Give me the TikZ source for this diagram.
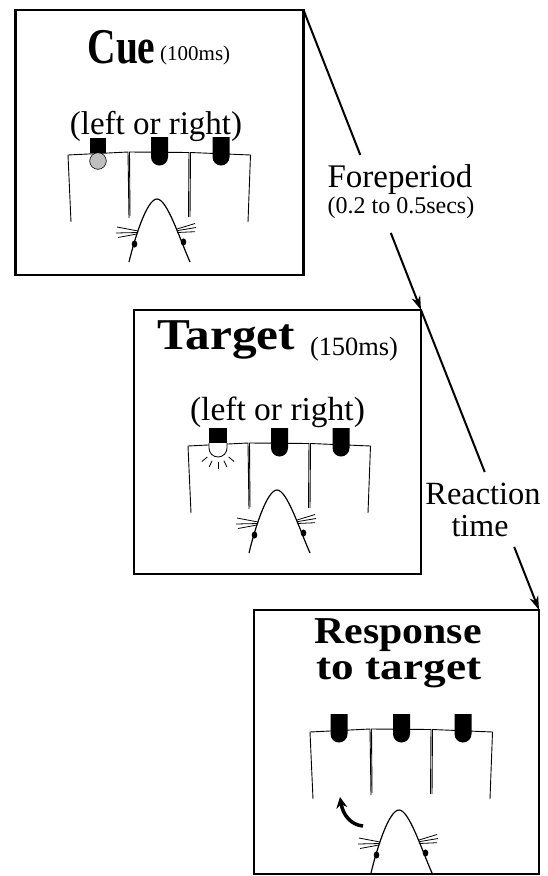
\documentclass[tikz,border=0pt]{standalone}
\usepackage{fontspec}
\setmainfont{Liberation Serif}
\usetikzlibrary{arrows.meta,calc}

\tikzset{
  panel/.style={draw, rectangle, line width=2.8pt, inner sep=0pt, outer sep=0pt},
  wall/.style={line width=0.9pt},
  link/.style={line width=2pt},
  linkarrow/.style={line width=2pt, -{Stealth[length=14pt,width=9pt]}},
  txt/.style={inner sep=0pt, anchor=base},
  % dark lamp: square base with a rounded bulb below
  lamp/.pic={
    \fill (-8.5,-15) -- (8.5,-15) -- (8.5,5) arc[start angle=0,end angle=180,radius=8.5] -- cycle;
  },
  % three open chambers with the middle and right lamps
  chambers/.pic={
    \draw[wall] (-88,70) -- (-91,3) -- (-31,0) -- (-30,66);
    \draw[wall] (-29,64) -- (-29.5,0) -- (30,0.5) -- (29.5,65);
    \draw[wall] (31,65) -- (31.5,0.5) -- (91.5,3) -- (89,70);
    \pic at (0.5,0) {lamp};
    \pic at (62,0) {lamp};
  },
  % rat head seen from above
  rat/.pic={
    \draw[line width=1.2pt] (-30,110) .. controls (-24,85) and (-12,47) .. (-2,47)
          .. controls (8,47) and (20,85) .. (31,110);
    \draw[line width=0.8pt] (-42,75) -- (-21,79) (-43,81) -- (-21,80.5) (-41,85.5) -- (-22,82);
    \draw[line width=0.8pt] (18,77) -- (36,71.5) (18,78.7) -- (37,75.5) (18.5,80.5) -- (36,79.7);
    \fill (-24.5,92) ellipse[x radius=2.8, y radius=3.6];
    \fill (24.5,90) ellipse[x radius=2.8, y radius=3.6];
  }
}

\begin{document}
\begin{tikzpicture}[x=1pt,y=-1pt]
\useasboundingbox (0,0) rectangle (548,876);

% frames
\node[panel, minimum width=288pt, minimum height=265pt] (p1) at (159.5,142.5) {};
\node[panel, minimum width=287pt, minimum height=264pt] (p2) at (277.5,442) {};
\node[panel, minimum width=285pt, minimum height=264pt] (p3) at (396.5,742) {};

% cue frame
\node[txt, font=\fontsize{50}{50}\selectfont\bfseries] (cue) at (121.5,63) {\scalebox{0.79}[1]{Cue}};
\node[txt, anchor=base west, font=\fontsize{21}{21}\selectfont] (cuedur) at (160,60) {(100ms)};
\node[txt, font=\fontsize{33}{33}\selectfont] (side1) at (156,134) {(left or right)};
\begin{scope}[shift={(159,152)}]
  \pic {chambers};
  \draw[fill=gray!50, line width=0.6pt] (-61,9) circle[radius=8.3];
  \fill (-69,-14) rectangle (-53,1);
  \pic {rat};
\end{scope}

% target frame
\node[txt, font=\fontsize{44}{44}\selectfont\bfseries] (target) at (226,349) {\scalebox{1.12}[1]{Target}};
\node[txt, font=\fontsize{26.4}{26.4}\selectfont] (targetdur) at (354,355) {(150ms)};
\node[txt, font=\fontsize{33.5}{33.5}\selectfont] (side2) at (277.5,420) {(left or right)};
\begin{scope}[shift={(279,443)}]
  \pic {chambers};
  \fill (-70,-15) rectangle (-52,0.5);
  \draw[line width=0.8pt, fill=white] (-70,0) -- (-70,5) arc[start angle=180,end angle=0,radius=9] -- (-52,0);
  \foreach \a in {40,65,90,115,140}
    \draw[line width=0.8pt] ([shift={(\a:14)}]-61,5) -- ([shift={(\a:21)}]-61,5);
  \pic {rat};
\end{scope}

% response frame
\node[txt, font=\fontsize{38}{38}\selectfont\bfseries] (resp) at (398,643) {\scalebox{1.1}[1]{Response}};
\node[txt, font=\fontsize{38}{38}\selectfont\bfseries] (resp2) at (399,679) {\scalebox{1.19}[1]{to target}};
\begin{scope}[shift={(401,729)}]
  \pic {chambers};
  \pic at (-62,0) {lamp};
  \draw[line width=3.5pt, -{Stealth[length=11pt,width=11pt]}]
    (-38,97) .. controls (-50,96) and (-58,86) .. (-61,68);
\end{scope}
\pic at (401,763) {rat};

% timing links
\node[txt, font=\fontsize{33}{33}\selectfont] (fore) at (400,187) {Foreperiod};
\node[txt, font=\fontsize{24}{24}\selectfont] (forerange) at (401,213) {(0.2 to 0.5secs)};
\node[txt, font=\fontsize{32.4}{32.4}\selectfont] (react) at (483,504) {Reaction};
\node[txt, font=\fontsize{32}{32}\selectfont] (rtime) at (480,536) {time};

\coordinate (fpA) at ($(p1.north east)!0.483!(p2.north east)$);
\coordinate (fpB) at ($(p1.north east)!0.743!(p2.north east)$);
\coordinate (rtA) at ($(p2.north east)!0.54!(p3.north east)$);
\coordinate (rtB) at ($(p2.north east)!0.79!(p3.north east)$);
\draw[link] (p1.north east) -- (fpA);
\draw[linkarrow] (fpB) -- (p2.north east);
\draw[link] (p2.north east) -- (rtA);
\draw[linkarrow] (rtB) -- (p3.north east);
\end{tikzpicture}
\end{document}
